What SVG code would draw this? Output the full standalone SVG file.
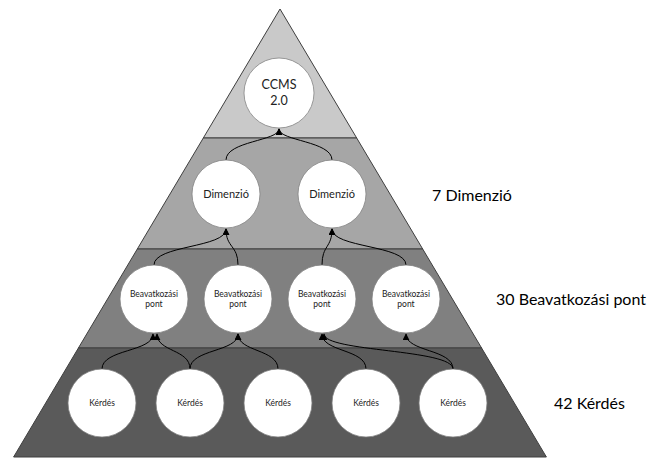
<svg xmlns="http://www.w3.org/2000/svg" width="662" height="459" viewBox="0 0 662 459">
<style>
.band{stroke:#3f3f3f;stroke-width:1}
.node circle{fill:#fff;stroke:#7f7f7f;stroke-width:0.75}
.node text{font-family:Lato,"Open Sans","Liberation Sans",sans-serif;fill:#222;text-anchor:middle}
.conn path{fill:none;stroke:#000;stroke-width:1;marker-end:url(#arr)}
.lbl{font-family:Lato,"Open Sans","Liberation Sans",sans-serif;font-size:16px;fill:#000}
</style>
<defs>
<marker id="arr" viewBox="0 0 10 10" refX="9" refY="5" markerWidth="7" markerHeight="7" markerUnits="userSpaceOnUse" orient="auto">
<path d="M0,0 L10,5 L0,10 z" fill="#000"/>
</marker>
</defs>
<g id="pyramid">
<polygon class="band" fill="#c9c9c9" points="280,9 356.7,138 203.3,138"/>
<polygon class="band" fill="#a6a6a6" points="203.3,138 356.7,138 422.7,249 137.3,249"/>
<polygon class="band" fill="#808080" points="137.3,249 422.7,249 481.6,348 78.4,348"/>
<polygon class="band" fill="#5a5a5a" points="78.4,348 481.6,348 546.4,457 13.6,457"/>
</g>
<g id="connectors" class="conn">
<path d="M226,160 C226,141 279,141 279,129"/>
<path d="M332,160 C332,141 279,141 279,129"/>
<path d="M154,265 C154,245 226,248 226,229"/>
<path d="M238,265 C238,245 226,248 226,229"/>
<path d="M322,265 C322,245 332,248 332,229"/>
<path d="M406,265 C406,245 332,248 332,229"/>
<path d="M102,369 C102,349 153,352 153,334"/>
<path d="M190,369 C190,349 157,352 157,334"/>
<path d="M190,369 C190,349 238,352 238,334"/>
<path d="M278,369 C278,349 238,352 238,334"/>
<path d="M366,369 C366,349 322,352 322,334"/>
<path d="M453,369 C453,349 324,352 324,334"/>
<path d="M453,369 C453,349 406,352 406,334"/>
</g>
<g id="ccms" class="node"><circle cx="279" cy="93" r="35"/><text x="279" y="89" font-size="12.5">CCMS</text><text x="279" y="105" font-size="12.5">2.0</text></g>
<g id="dim1" class="node"><circle cx="226" cy="194" r="34"/><text x="226" y="198" font-size="11">Dimenzió</text></g>
<g id="dim2" class="node"><circle cx="332" cy="194" r="34"/><text x="332" y="198" font-size="11">Dimenzió</text></g>
<g id="bp1" class="node"><circle cx="154" cy="299" r="34"/><text x="154" y="297" font-size="8.5">Beavatkozási</text><text x="154" y="307" font-size="8.5">pont</text></g>
<g id="bp2" class="node"><circle cx="238" cy="299" r="34"/><text x="238" y="297" font-size="8.5">Beavatkozási</text><text x="238" y="307" font-size="8.5">pont</text></g>
<g id="bp3" class="node"><circle cx="322" cy="299" r="34"/><text x="322" y="297" font-size="8.5">Beavatkozási</text><text x="322" y="307" font-size="8.5">pont</text></g>
<g id="bp4" class="node"><circle cx="406" cy="299" r="34"/><text x="406" y="297" font-size="8.5">Beavatkozási</text><text x="406" y="307" font-size="8.5">pont</text></g>
<g id="k1" class="node"><circle cx="102" cy="403" r="34"/><text x="102" y="406" font-size="8.5">Kérdés</text></g>
<g id="k2" class="node"><circle cx="190" cy="403" r="34"/><text x="190" y="406" font-size="8.5">Kérdés</text></g>
<g id="k3" class="node"><circle cx="278" cy="403" r="34"/><text x="278" y="406" font-size="8.5">Kérdés</text></g>
<g id="k4" class="node"><circle cx="366" cy="403" r="34"/><text x="366" y="406" font-size="8.5">Kérdés</text></g>
<g id="k5" class="node"><circle cx="453" cy="403" r="34"/><text x="453" y="406" font-size="8.5">Kérdés</text></g>
<g id="labels">
<text class="lbl" x="432" y="201">7 Dimenzió</text>
<text class="lbl" x="496" y="305">30 Beavatkozási pont</text>
<text class="lbl" x="554" y="409">42 Kérdés</text>
</g>
</svg>
